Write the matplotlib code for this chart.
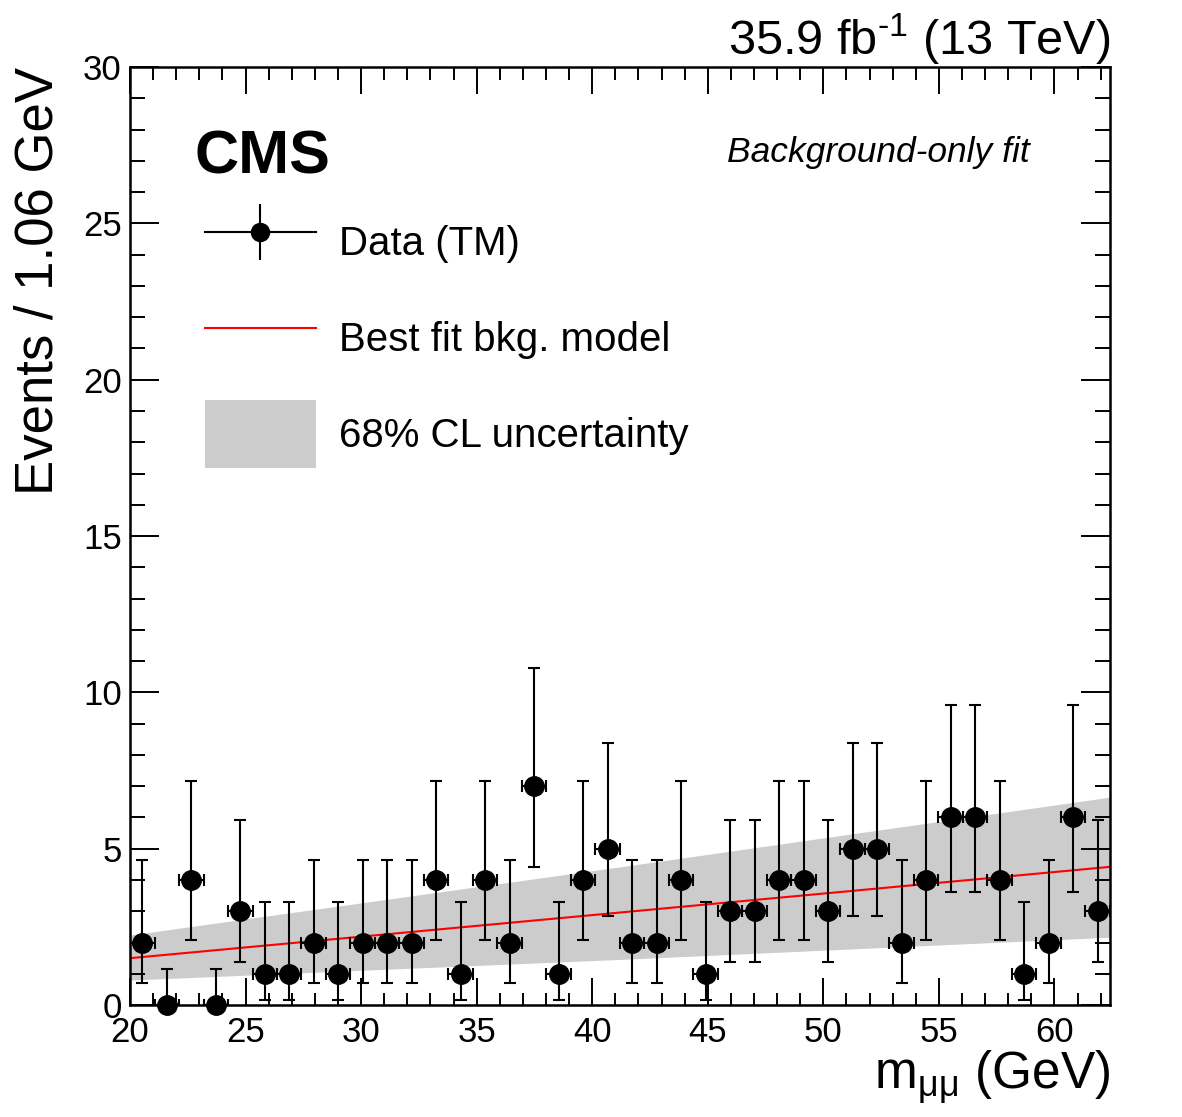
import numpy as np
import matplotlib
matplotlib.use("Agg")
import matplotlib.pyplot as plt
from matplotlib.lines import Line2D
from matplotlib.patches import Patch
from matplotlib.ticker import MultipleLocator

plt.rcParams['font.family'] = ['Liberation Sans', 'DejaVu Sans']
plt.rcParams['mathtext.fontset'] = 'custom'
plt.rcParams['mathtext.rm'] = 'Liberation Sans'
plt.rcParams['mathtext.it'] = 'Liberation Sans:italic'
plt.rcParams['mathtext.bf'] = 'Liberation Sans:bold'

# binning (Events / 1.06 GeV, 20 - 62.4 GeV)
bin_start = 20.0
bin_width = 1.06
counts = [2, 0, 4, 0, 3, 1, 1, 2, 1, 2, 2, 2, 4, 1, 4, 2, 7, 1, 4, 5,
          2, 2, 4, 1, 3, 3, 4, 4, 3, 5, 5, 2, 4, 6, 6, 4, 1, 2, 6, 3]

# 68% Poisson (Garwood) interval, indexed by count
pois_err_lo = [0.0, 0.827, 1.291, 1.633, 1.914, 2.159, 2.380, 2.581]
pois_err_hi = [1.148, 2.299, 2.638, 2.918, 3.162, 3.382, 3.583, 3.770]

# background-only fit and its 68% band
fit_x = [20.0, 41.2, 62.4]
fit_y = [1.50, 2.96, 4.42]
band_lo = [0.80, 1.46, 2.17]
band_hi = [2.24, 4.42, 6.65]

counts = np.array(counts)
edges = bin_start + bin_width * np.arange(len(counts) + 1)
centers = 0.5 * (edges[:-1] + edges[1:])
yerr = np.array([[pois_err_lo[n] for n in counts],
                 [pois_err_hi[n] for n in counts]])

fig = plt.figure(figsize=(11.82, 11.17), dpi=100)
ax = fig.add_axes([0.110, 0.1002, 0.829, 0.8398])

ax.fill_between(fit_x, band_lo, band_hi, color='#cccccc', lw=0, zorder=1)
ax.plot(fit_x, fit_y, color='red', lw=1.5, zorder=2)
eb = ax.errorbar(centers, counts, xerr=bin_width / 2, yerr=yerr, fmt='o',
                 color='black', ms=14, elinewidth=1.5, capsize=4.5,
                 capthick=1.5, zorder=3)
eb.lines[0].set_clip_on(False)

ax.set_xlim(edges[0], edges[-1])
ax.set_ylim(0, 30)
ax.xaxis.set_major_locator(MultipleLocator(5))
ax.xaxis.set_minor_locator(MultipleLocator(1))
ax.yaxis.set_major_locator(MultipleLocator(5))
ax.yaxis.set_minor_locator(MultipleLocator(1))
ax.tick_params(which='both', direction='in', top=True, right=True,
               width=1.4, labelsize=25)
ax.tick_params(axis='x', which='major', length=19.5, pad=8)
ax.tick_params(axis='x', which='minor', length=9)
ax.tick_params(axis='y', which='major', length=21, pad=6)
ax.tick_params(axis='y', which='minor', length=11)
for sp in ax.spines.values():
    sp.set_linewidth(1.8)

ax.set_xlabel(r'm$_{\mathregular{μμ}}$ (GeV)', fontsize=37, loc='right')
ax.xaxis.set_label_coords(1.0, -0.046)
ax.set_ylabel('Events / 1.06 GeV', fontsize=38, loc='top')
ax.yaxis.set_label_coords(-0.068, 1.0)

ax.text(1.0, 1.013, r'35.9 fb$^{\text{-1}}$ (13 TeV)', transform=ax.transAxes,
        ha='right', va='baseline', fontsize=35)
ax.text(0.066, 0.887, 'CMS', transform=ax.transAxes, ha='left',
        va='baseline', fontsize=44, fontweight='bold')
ax.text(0.918, 0.899, 'Background-only fit', transform=ax.transAxes,
        ha='right', va='baseline', fontsize=25.5, style='italic')

h_data = (Line2D([], [], color='black', lw=1.5, marker='o', ms=13),
          Line2D([], [], color='black', ls='none', marker='|', ms=41, mew=1.5))
h_fit = Line2D([], [], color='red', lw=1.5)
h_band = Patch(facecolor='#cccccc', edgecolor='none')
ax.legend([h_data, h_fit, h_band],
          ['Data (TM)', 'Best fit bkg. model', '68% CL uncertainty'],
          loc='upper left', bbox_to_anchor=(0.0765, 0.849), frameon=False,
          fontsize=29, handlelength=2.75, handleheight=2.22,
          handletextpad=0.57, labelspacing=0.69, borderpad=0,
          borderaxespad=0)

fig.savefig('out.png', dpi=100)
